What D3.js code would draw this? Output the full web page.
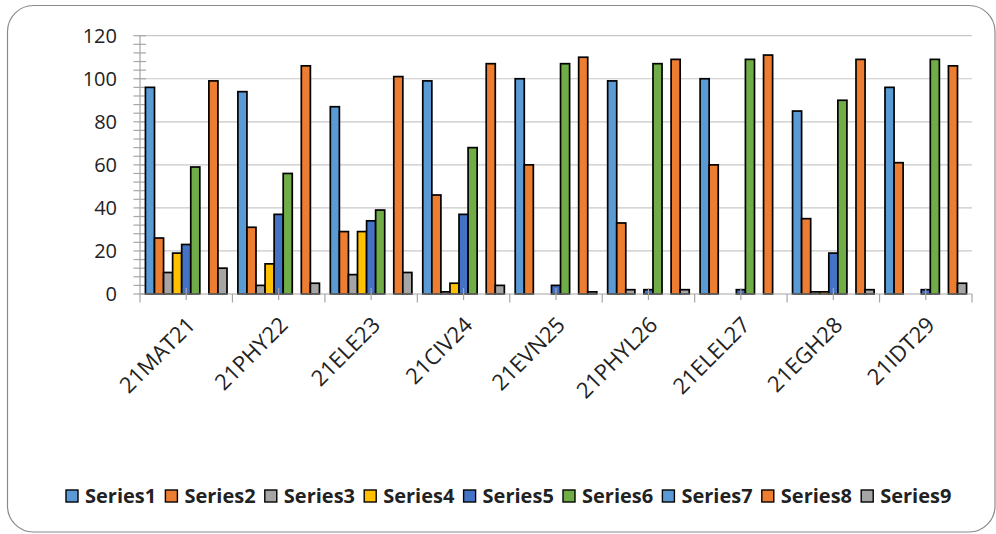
<!DOCTYPE html>
<html>
<head>
<meta charset="utf-8">
<script src="https://cdn.jsdelivr.net/npm/d3@7"></script>
<style>
  body { margin: 0; background: #fff; }
  text { font-family: "Open Sans", sans-serif; fill: #222; }
</style>
</head>
<body>
<div id="chart"></div>
<script>
// data
const categories = ['21MAT21', '21PHY22', '21ELE23', '21CIV24', '21EVN25', '21PHYL26', '21ELEL27', '21EGH28', '21IDT29'];
const seriesNames = ['Series1', 'Series2', 'Series3', 'Series4', 'Series5', 'Series6', 'Series7', 'Series8', 'Series9'];
const series1 = [96, 94, 87, 99, 100, 99, 100, 85, 96];
const series2 = [26, 31, 29, 46, 60, 33, 60, 35, 61];
const series3 = [10, 4, 9, 1, 0, 2, 0, 1, 0];
const series4 = [19, 14, 29, 5, 0, 0, 0, 1, 0];
const series5 = [23, 37, 34, 37, 4, 2, 2, 19, 2];
const series6 = [59, 56, 39, 68, 107, 107, 109, 90, 109];
const series7 = [0, 0, 0, 0, 0, 0, 0, 0, 0];
const series8 = [99, 106, 101, 107, 110, 109, 111, 109, 106];
const series9 = [12, 5, 10, 4, 1, 2, 0, 2, 5];
const yTicks = [0, 20, 40, 60, 80, 100, 120];

const allSeries = [series1, series2, series3, series4, series5, series6, series7, series8, series9];
const colors = ['#5B9BD5', '#ED7D31', '#A5A5A5', '#FFC000', '#4472C4', '#70AD47', '#5B9BD5', '#ED7D31', '#A5A5A5'];

const width = 996, height = 534;
const plotLeft = 140, plotRight = 972, plotTop = 35.7, plotBottom = 294;

const svg = d3.select('#chart').append('svg')
    .attr('width', width)
    .attr('height', height);

// outer frame
svg.append('rect')
    .attr('x', 7.5).attr('y', 5.5)
    .attr('width', 995 - 7.5).attr('height', 532 - 5.5)
    .attr('rx', 26).attr('ry', 26)
    .attr('fill', '#fff')
    .attr('stroke', '#8a8a8a')
    .attr('stroke-width', 1.2);

const x = d3.scaleBand().domain(categories).range([plotLeft, plotRight]).padding(0);
const xs = d3.scaleBand().domain(seriesNames).range([0, x.bandwidth()]).paddingOuter(0.6);
const y = d3.scaleLinear().domain([0, 120]).range([plotBottom, plotTop]);

// gridlines
svg.append('g').selectAll('line')
    .data(yTicks.slice(1))
    .join('line')
    .attr('x1', plotLeft).attr('x2', plotRight)
    .attr('y1', d => y(d)).attr('y2', d => y(d))
    .attr('stroke', '#c8c8c8')
    .attr('stroke-width', 1.2);

// y axis line + minor ticks
svg.append('line')
    .attr('x1', plotLeft).attr('x2', plotLeft)
    .attr('y1', y(120)).attr('y2', y(0))
    .attr('stroke', '#a6a6a6').attr('stroke-width', 1.2);
svg.append('g').selectAll('line')
    .data(d3.range(0, 121, 4))
    .join('line')
    .attr('x1', plotLeft - 6.5).attr('x2', plotLeft + 6)
    .attr('y1', d => y(d)).attr('y2', d => y(d))
    .attr('stroke', '#a6a6a6').attr('stroke-width', 1.2);

// y labels
const yAxis = svg.append('g')
    .attr('transform', `translate(${plotLeft},0)`)
    .call(d3.axisLeft(y).tickValues(yTicks).tickSize(0).tickPadding(23));
yAxis.select('.domain').remove();
yAxis.selectAll('text')
    .style('font-family', '"Open Sans", sans-serif')
    .style('font-size', '20px')
    .attr('fill', '#222');

// bars
const groups = svg.append('g').selectAll('g')
    .data(categories)
    .join('g')
    .attr('transform', d => `translate(${x(d)},0)`);

groups.selectAll('rect')
    .data((c, i) => allSeries.map((s, j) => ({ name: seriesNames[j], value: s[i], color: colors[j] })).filter(d => d.value > 0))
    .join('rect')
    .attr('x', d => xs(d.name))
    .attr('width', xs.bandwidth())
    .attr('y', d => y(d.value))
    .attr('height', d => y(0) - y(d.value))
    .attr('fill', d => d.color)
    .attr('stroke', '#000')
    .attr('stroke-width', 1.7);

// x axis line
svg.append('line')
    .attr('x1', plotLeft).attr('x2', plotRight)
    .attr('y1', plotBottom).attr('y2', plotBottom)
    .attr('stroke', '#a6a6a6').attr('stroke-width', 1.2);

// boundary ticks
svg.append('g').selectAll('line')
    .data(d3.range(categories.length + 1))
    .join('line')
    .attr('x1', i => plotLeft + i * x.step()).attr('x2', i => plotLeft + i * x.step())
    .attr('y1', plotBottom).attr('y2', plotBottom + 8.5)
    .attr('stroke', '#a6a6a6').attr('stroke-width', 1.2);

// mid ticks
svg.append('g').selectAll('line')
    .data(categories)
    .join('line')
    .attr('x1', d => x(d) + x.bandwidth() / 2).attr('x2', d => x(d) + x.bandwidth() / 2)
    .attr('y1', plotBottom - 6).attr('y2', plotBottom + 6)
    .attr('stroke', '#a6a6a6').attr('stroke-width', 1.2);

// x labels rotated
svg.append('g').selectAll('text')
    .data(categories)
    .join('text')
    .attr('transform', d => `translate(${x(d) + x.bandwidth() / 2 + 5},${plotBottom + 27}) rotate(-45)`)
    .attr('text-anchor', 'end')
    .attr('dy', '0.35em')
    .style('font-size', '22px')
    .text(d => d);

// legend
const lx = d3.scaleBand().domain(seriesNames).range([66, 66 + 9 * 99.4]);
const legend = svg.append('g').selectAll('g')
    .data(seriesNames)
    .join('g')
    .attr('transform', d => `translate(${lx(d)},490)`);

legend.append('rect')
    .attr('width', 12).attr('height', 12)
    .attr('fill', (d, i) => colors[i])
    .attr('stroke', '#000')
    .attr('stroke-width', 1.4);

legend.append('text')
    .attr('x', 19).attr('y', 6)
    .attr('dy', '0.35em')
    .style('font-size', '20px')
    .style('font-weight', 'bold')
    .text(d => d);
</script>
</body>
</html>
